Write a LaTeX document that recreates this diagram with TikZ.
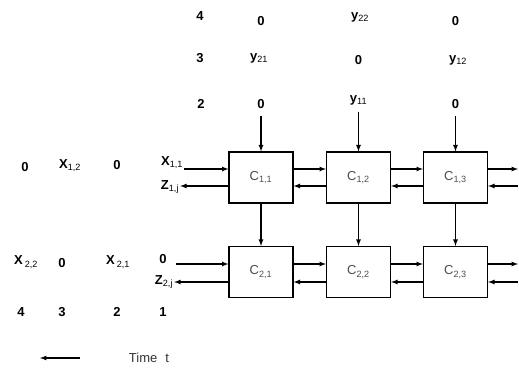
\documentclass[tikz,border=0pt]{standalone}
\usepackage{fontspec}
\setmainfont{Liberation Sans}
\usetikzlibrary{arrows,positioning}

\tikzset{
  cellbox/.style={draw, line width=1.2pt, minimum width=64pt, minimum height=51pt, inner sep=0pt, font=\fontsize{13}{15}\selectfont, text=black!70},
  lbl/.style={inner sep=1pt, font=\bfseries\fontsize{13}{15}\selectfont},
  timelbl/.style={inner sep=1pt, font=\fontsize{13}{15}\selectfont, text=black!80},
  conn/.style={-latex, line width=1.2pt}
}
\newcommand{\sub}[1]{\textsubscript{\normalfont #1}}

\begin{document}
\begin{tikzpicture}[x=1pt,y=-1pt]
  \useasboundingbox (0,0) rectangle (519,371);

  % the six cells
  \node[cellbox] (c11) at (261,177.5) {C\sub{1,1}};
  \node[cellbox] (c12) at (358.5,177.5) {C\sub{1,2}};
  \node[cellbox] (c13) at (455.5,177.5) {C\sub{1,3}};
  \node[cellbox] (c21) at (261,272) {C\sub{2,1}};
  \node[cellbox] (c22) at (358.5,272) {C\sub{2,2}};
  \node[cellbox] (c23) at (455.5,272) {C\sub{2,3}};

  % time steps on top
  \node[lbl] (t4) at (200,16) {4};
  \node[lbl] (t3) at (200,58) {3};
  \node[lbl] (t2) at (201,104) {2};

  % y inputs, column by column
  \node[lbl] (a4) at (261,21) {0};
  \node[lbl] (a3) at (259,58) {y\sub{21}};
  \node[lbl] (a2) at (261,104) {0};
  \node[lbl] (b4) at (360,17) {y\sub{22}};
  \node[lbl] (b3) at (358.5,60) {0};
  \node[lbl] (b2) at (358.5,100) {y\sub{11}};
  \node[lbl] (d4) at (455.5,21) {0};
  \node[lbl] (d3) at (458,60) {y\sub{12}};
  \node[lbl] (d2) at (455.5,104) {0};

  % x inputs and z outputs on the left
  \node[lbl] (r10) at (25,167) {0};
  \node[lbl] (x12) at (70,166) {X\sub{1,2}};
  \node[lbl] (r11) at (117,165) {0};
  \node[lbl] (x11) at (172,163) {X\sub{1,1}};
  \node[lbl] (z1) at (170,187) {Z\sub{1,j}};
  \node[lbl] (x22) at (26,262) {X\,\sub{2,2}};
  \node[lbl] (r20) at (62,263) {0};
  \node[lbl] (x21) at (118,262) {X\,\sub{2,1}};
  \node[lbl] (r21) at (163,259) {0};
  \node[lbl] (z2) at (164,282) {Z\sub{2,j}};

  % time steps below
  \node[lbl] (s4) at (21,312) {4};
  \node[lbl] (s3) at (62,312) {3};
  \node[lbl] (s2) at (117,312) {2};
  \node[lbl] (s1) at (163,312) {1};
  \coordinate (ta) at (80,358);
  \coordinate (tb) at (40,358);
  \node[timelbl] (time) at (149,358) {Time\hspace{8pt}t};
  \draw[conn] (ta) -- (tb);

  % free ends on the right
  \coordinate (e1) at (518,169);
  \coordinate (f1) at (518,186);
  \coordinate (e2) at (518,264);
  \coordinate (f2) at (518,282);

  % vertical flow
  \draw[conn] ([yshift=-6pt]a2.south) -- (c11.north);
  \draw[conn] ([yshift=-6pt]b2.south) -- (c12.north);
  \draw[conn] ([yshift=-6pt]d2.south) -- (c13.north);
  \draw[conn] (c11.south) -- (c21.north);
  \draw[conn] (c12.south) -- (c22.north);
  \draw[conn] (c13.south) -- (c23.north);

  % horizontal flow, first row
  \draw[conn] (x11.east |- 0,169) -- ([yshift=8.5pt]c11.west);
  \draw[conn] ([yshift=-8.5pt]c11.west) -- (z1.east |- 0,186);
  \draw[conn] ([yshift=8.5pt]c11.east) -- ([yshift=8.5pt]c12.west);
  \draw[conn] ([yshift=-8.5pt]c12.west) -- ([yshift=-8.5pt]c11.east);
  \draw[conn] ([yshift=8.5pt]c12.east) -- ([yshift=8.5pt]c13.west);
  \draw[conn] ([yshift=-8.5pt]c13.west) -- ([yshift=-8.5pt]c12.east);
  \draw[conn] ([yshift=8.5pt]c13.east) -- (e1);
  \draw[conn] (f1) -- ([yshift=-8.5pt]c13.east);

  % horizontal flow, second row
  \draw[conn] ([xshift=8pt]r21.east |- 0,264) -- ([yshift=8pt]c21.west);
  \draw[conn] ([yshift=-10pt]c21.west) -- (z2.east |- 0,282);
  \draw[conn] ([yshift=8pt]c21.east) -- ([yshift=8pt]c22.west);
  \draw[conn] ([yshift=-10pt]c22.west) -- ([yshift=-10pt]c21.east);
  \draw[conn] ([yshift=8pt]c22.east) -- ([yshift=8pt]c23.west);
  \draw[conn] ([yshift=-10pt]c23.west) -- ([yshift=-10pt]c22.east);
  \draw[conn] ([yshift=8pt]c23.east) -- (e2);
  \draw[conn] (f2) -- ([yshift=-10pt]c23.east);
\end{tikzpicture}
\end{document}
